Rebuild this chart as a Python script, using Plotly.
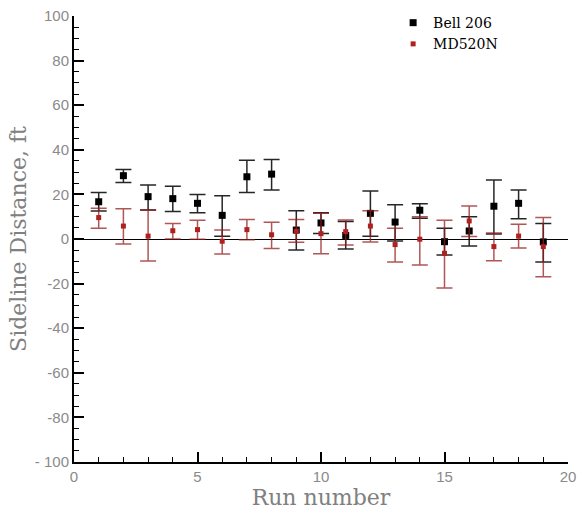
import plotly.graph_objects as go

runs = list(range(1, 20))

bell_mean = [16.7, 28.4, 19.0, 18.1, 16.0, 10.6, 27.9, 29.1, 4.0, 7.2, 1.6, 11.5, 7.6, 12.9, -1.2, 3.6, 14.7, 16.0, -1.3]
bell_upper = [20.8, 31.2, 24.2, 23.6, 19.9, 19.4, 35.3, 35.7, 12.7, 11.8, 7.8, 21.5, 15.4, 15.8, 4.8, 10.0, 26.5, 22.0, 7.0]
bell_lower = [12.6, 25.3, 13.0, 12.3, 11.8, 1.2, 20.8, 22.0, -4.9, 2.5, -4.5, 1.2, -0.9, 9.3, -7.2, -3.1, 2.2, 9.1, -10.3]

md_mean = [9.6, 5.8, 1.3, 3.7, 4.2, -1.0, 4.2, 1.9, 3.5, 2.4, 3.3, 5.8, -2.5, -0.1, -6.4, 8.1, -3.4, 1.3, -3.4]
md_upper = [13.8, 13.6, 13.0, 6.9, 8.4, 4.0, 8.7, 7.5, 8.7, 11.5, 8.5, 12.7, 4.8, 10.0, 8.4, 14.8, 2.7, 6.6, 9.6]
md_lower = [4.8, -2.2, -9.9, 0.0, -0.1, -6.7, -0.3, -4.3, -1.5, -6.6, -2.7, -1.3, -10.3, -11.7, -22.0, 1.1, -9.7, -4.0, -16.9]

def plus(u, m):
    return [a - b for a, b in zip(u, m)]

def minus(m, l):
    return [a - b for a, b in zip(m, l)]

fig = go.Figure()
fig.add_trace(go.Scatter(
    x=runs, y=bell_mean, mode="markers", name="Bell 206",
    marker=dict(symbol="square", size=7, color="black"),
    error_y=dict(type="data", symmetric=False,
                 array=plus(bell_upper, bell_mean), arrayminus=minus(bell_mean, bell_lower),
                 color="rgba(0,0,0,0.85)", thickness=1.5, width=8),
))
fig.add_trace(go.Scatter(
    x=runs, y=md_mean, mode="markers", name="MD520N",
    marker=dict(symbol="square", size=5, color="#b0201e"),
    error_y=dict(type="data", symmetric=False,
                 array=plus(md_upper, md_mean), arrayminus=minus(md_mean, md_lower),
                 color="rgba(150,30,30,0.75)", thickness=1.5, width=8),
))

tickfont = dict(family="Liberation Sans, Arial, sans-serif", size=15, color="#8a8a8a")
titlefont = dict(family="DejaVu Serif, serif", size=22, color="#808080")

fig.update_layout(
    width=587, height=512,
    margin=dict(l=74, r=19, t=16, b=50, autoexpand=False),
    paper_bgcolor="white", plot_bgcolor="white",
    showlegend=True,
    legend=dict(x=0.646, y=1.02, xanchor="left", yanchor="top",
                bgcolor="rgba(0,0,0,0)",
                font=dict(family="DejaVu Serif, serif", size=14, color="black"),
                itemwidth=30, tracegroupgap=0),
    xaxis=dict(
        range=[0, 20], tickmode="array", tickvals=[0, 5, 10, 15, 20],
        ticktext=["0", "5", "10", "15", "20"],
        ticks="inside", ticklen=10, tickwidth=1.5, tickcolor="black",
        minor=dict(tickmode="array", tickvals=list(range(0, 21)), ticks="inside", ticklen=5, tickwidth=1, tickcolor="black"),
        showline=True, linecolor="black", linewidth=2,
        showgrid=False, zeroline=False, automargin=False,
        tickfont=tickfont,
        title=dict(text="Run number", font=titlefont, standoff=0),
    ),
    yaxis=dict(
        range=[-100, 100], tickmode="array", tickvals=list(range(-100, 101, 20)),
        ticktext=["- 100", "-80", "-60", "-40", "-20", "0", "20", "40", "60", "80", "100"],
        ticks="inside", ticklen=10, tickwidth=1.5, tickcolor="black",
        minor=dict(tickmode="array", tickvals=list(range(-100, 101, 5)), ticks="inside", ticklen=5, tickwidth=1, tickcolor="black"),
        showline=True, linecolor="black", linewidth=2,
        showgrid=False, zeroline=True, zerolinecolor="black", zerolinewidth=1.2,
        automargin=False,
        tickfont=tickfont,
        title=dict(text="Sideline Distance, ft", font=titlefont, standoff=2),
    ),
)

fig.write_html("out.html", config={"displayModeBar": False},
               post_script="document.body.style.margin='0';")
